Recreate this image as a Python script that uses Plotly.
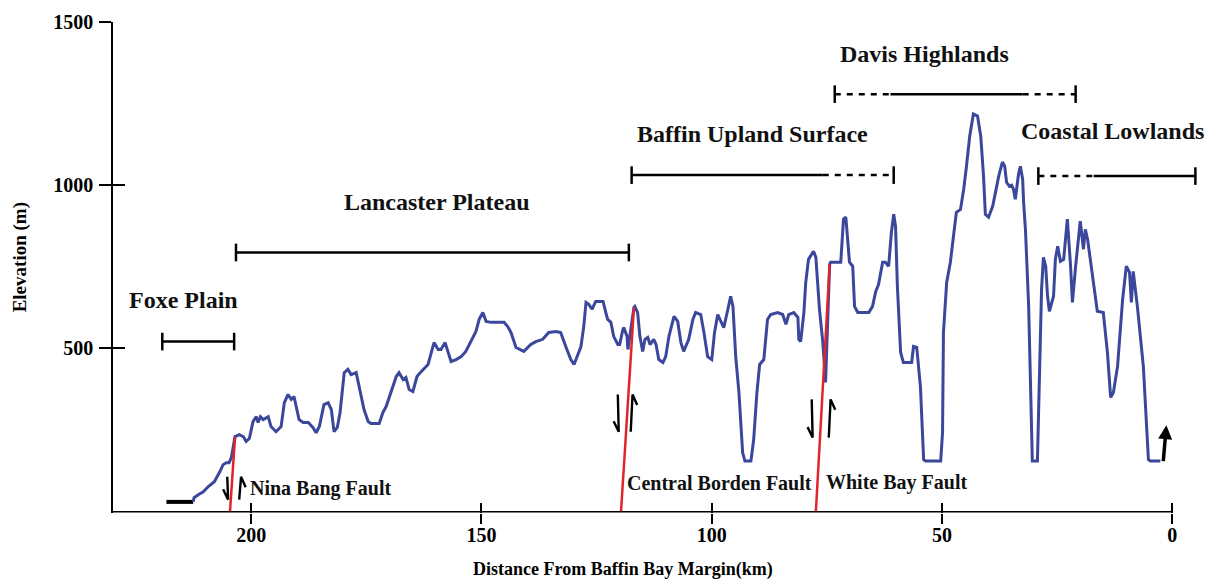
import plotly.graph_objects as go

# Topographic profile: distance from Baffin Bay margin (km) and elevation (m)
profile_km = [
    212.6, 212.4, 211.5, 210.4, 209.3, 208.0, 206.9, 206.1, 205.4, 204.8,
    204.3, 203.5, 202.6, 201.7, 201.1, 200.4, 199.6, 198.9, 198.5, 198.0,
    197.4, 196.3, 195.7, 194.6, 193.5, 192.8, 192.0, 191.3, 190.7, 190.2,
    189.6, 188.7, 187.6, 186.6, 185.9, 185.2, 184.2, 183.3, 182.6, 182.0,
    181.3, 180.7, 179.8, 179.0, 178.3, 177.2, 176.6, 175.5, 174.6, 174.0,
    172.2, 171.4, 170.7, 169.6, 168.5, 167.9, 167.0, 166.4, 165.7, 164.9,
    164.0, 163.1, 161.6, 161.0, 160.3, 159.4, 158.8, 157.9, 157.3, 156.6,
    155.5, 154.4, 153.4, 152.3, 151.2, 150.5, 149.7, 149.0, 147.9, 146.4,
    145.1, 144.3, 143.6, 142.5, 140.8, 139.3, 138.2, 136.7, 135.4, 133.8,
    132.8, 131.7, 130.6, 129.9, 129.1, 128.4, 127.8, 127.3, 126.7, 126.0,
    125.2, 123.6, 123.0, 122.6, 121.9, 121.3, 120.4, 120.0, 119.3, 119.1,
    118.4, 118.2, 116.9, 116.7, 116.1, 115.6, 115.0, 114.5, 113.9, 113.4,
    112.6, 112.1, 111.5, 110.6, 110.0, 109.3, 108.2, 107.4, 106.7, 106.1,
    105.0, 104.1, 103.5, 102.4, 101.7, 100.9, 100.0, 99.4, 98.7, 98.0,
    97.4, 96.5, 95.9, 95.4, 94.8, 94.1, 93.3, 92.8, 91.5, 90.9,
    90.2, 89.6, 88.7, 87.9, 87.2, 85.7, 84.6, 83.9, 83.3, 82.2,
    81.3, 81.1, 80.7, 80.0, 79.6, 79.0, 77.9, 77.4, 77.0, 76.6,
    75.9, 75.5, 75.3, 74.4, 74.2, 73.1, 72.0, 71.4, 70.9, 70.5,
    70.1, 69.4, 69.0, 68.3, 65.9, 65.1, 64.4, 63.8, 62.9, 62.3,
    61.6, 61.0, 60.5, 60.1, 59.7, 59.0, 58.4, 56.6, 56.2, 55.5,
    54.7, 54.0, 53.6, 50.3, 49.9, 49.7, 49.0, 48.2, 47.5, 46.9,
    46.0, 45.3, 44.7, 44.0, 43.2, 42.3, 41.6, 41.0, 40.6, 39.9,
    39.0, 38.4, 37.7, 36.9, 36.4, 36.0, 35.4, 34.9, 34.5, 34.1,
    33.4, 33.0, 32.5, 32.3, 31.9, 31.2, 30.6, 30.4, 29.3, 28.9,
    28.4, 28.0, 27.5, 27.1, 26.7, 25.8, 25.4, 24.9, 24.3, 23.6,
    22.8, 22.1, 21.7, 21.0, 20.6, 20.0, 19.3, 18.9, 18.4, 17.4,
    16.3, 15.0, 14.1, 13.4, 12.8, 11.9, 10.8, 10.0, 9.3, 8.9,
    8.5, 7.6, 6.9, 6.3, 5.2, 4.8, 2.6,
]
profile_m = [
    30, 43, 52, 61, 77, 92, 120, 144, 150, 150,
    166, 230, 236, 230, 215, 224, 276, 291, 273, 291,
    282, 291, 261, 245, 261, 334, 359, 344, 353, 322,
    282, 273, 273, 258, 242, 261, 328, 334, 313, 245,
    258, 304, 426, 436, 420, 426, 383, 313, 276, 270,
    270, 304, 322, 365, 414, 426, 405, 411, 374, 368,
    414, 429, 451, 482, 518, 497, 497, 518, 488, 460,
    466, 475, 491, 521, 552, 589, 610, 583, 580, 580,
    580, 567, 549, 503, 491, 512, 521, 528, 549, 552,
    549, 506, 466, 451, 482, 506, 567, 641, 635, 620,
    644, 644, 610, 589, 580, 537, 512, 512, 558, 564,
    537, 497, 626, 629, 610, 537, 491, 528, 534, 512,
    528, 512, 466, 457, 475, 537, 598, 583, 518, 491,
    528, 589, 610, 604, 549, 475, 466, 549, 604, 580,
    564, 620, 660, 629, 475, 365, 181, 155, 155, 221,
    365, 451, 466, 589, 604, 610, 604, 574, 604, 610,
    595, 528, 521, 610, 702, 773, 798, 779, 702, 617,
    521, 436, 396, 758, 764, 764, 764, 896, 902, 834,
    764, 752, 629, 610, 610, 629, 675, 696, 764, 764,
    752, 856, 911, 874, 690, 488, 457, 457, 506, 503,
    383, 160, 155, 155, 242, 549, 702, 764, 856, 917,
    926, 988, 1058, 1150, 1218, 1212, 1150, 1028, 911, 902,
    936, 979, 1028, 1071, 1058, 1009, 997, 1000, 988, 957,
    1034, 1058, 1018, 948, 865, 629, 322, 155, 155, 426,
    681, 779, 752, 660, 614, 660, 773, 813, 767, 773,
    896, 752, 641, 752, 813, 890, 804, 865, 834, 733,
    614, 610, 488, 350, 365, 445, 650, 752, 733, 641,
    736, 629, 528, 445, 160, 155, 155,
]

# Low flat stretch at the western end of the transect
flat_km = [218.4, 212.6]
flat_m = [30, 30]

# Physiographic regions: extent (km), bar elevation, well-defined (solid) part
region_names = ["Foxe Plain", "Lancaster Plateau", "Baffin Upland Surface",
                "Davis Highlands", "Coastal Lowlands"]
region_start_km = [219.3, 203.3, 117.4, 73.3, 29.1]
region_end_km = [203.7, 118.0, 60.5, 21.0, -5.0]
region_solid_from_km = [219.3, 203.3, 117.4, 61.2, 17.1]
region_solid_to_km = [203.7, 118.0, 75.9, 32.5, -5.0]
region_bar_m = [521, 794, 1031, 1279, 1028]
region_label_km = [214.8, 159.7, 91.2, 53.8, 13.0]
region_label_m = [647, 948, 1156, 1402, 1166]

# Faults: trace from the base line up to the profile
fault_names = ["Nina Bang Fault", "Central Borden Fault", "White Bay Fault"]
fault_base_km = [204.6, 119.7, 77.4]
fault_top_km = [203.5, 116.9, 74.4]
fault_top_m = [230, 626, 758]
fault_label_km = [200.7, 118.9, 75.7]
fault_label_m = [71, 89, 89]
# Sense-of-motion arrows beside each fault
arrow_down_km = [205.0, 120.2, 78.1]
arrow_up_km = [202.6, 117.6, 74.6]
arrow_low_m = [37, 245, 227]
arrow_high_m = [107, 359, 344]

# Uplift arrow at the coast
coast_arrow_km = [2.0, 1.3]
coast_arrow_m = [150, 265]

x_ticks = [200, 150, 100, 50, 0]
y_ticks = [500, 1000, 1500]

SERIF = "Liberation Serif, Times New Roman, serif"
BLUE = "#3a479b"
RED = "#e3232b"
CAP = 27          # half height of range-bar end caps (m)
X_RANGE = [230, -6]
Y_RANGE = [-4, 1500]

fig = go.Figure()

# Range bars for the physiographic regions
solid_x, solid_y, dash_x, dash_y, cap_x, cap_y = [], [], [], [], [], []
for s, e, sf, st, m in zip(region_start_km, region_end_km, region_solid_from_km,
                           region_solid_to_km, region_bar_m):
    solid_x += [sf, st, None]
    solid_y += [m, m, None]
    if s != sf:
        dash_x += [s, sf, None]
        dash_y += [m, m, None]
    if e != st:
        dash_x += [st, e, None]
        dash_y += [m, m, None]
    for k in (s, e):
        cap_x += [k, k, None]
        cap_y += [m - CAP, m + CAP, None]

fig.add_trace(go.Scatter(x=solid_x, y=solid_y, mode="lines",
                         line=dict(color="black", width=2.5), hoverinfo="skip"))
fig.add_trace(go.Scatter(x=dash_x, y=dash_y, mode="lines",
                         line=dict(color="black", width=2.5, dash="6px,6px"),
                         hoverinfo="skip"))
fig.add_trace(go.Scatter(x=cap_x, y=cap_y, mode="lines",
                         line=dict(color="black", width=2.5), hoverinfo="skip"))

# Western flat section and the elevation profile
fig.add_trace(go.Scatter(x=flat_km, y=flat_m, mode="lines",
                         line=dict(color="black", width=4), hoverinfo="skip"))
fig.add_trace(go.Scatter(x=profile_km, y=profile_m, mode="lines",
                         line=dict(color=BLUE, width=3), name="Elevation"))

# Fault traces
fx, fy = [], []
for b, t, tm in zip(fault_base_km, fault_top_km, fault_top_m):
    fx += [b, t, None]
    fy += [0, tm, None]
fig.add_trace(go.Scatter(x=fx, y=fy, mode="lines",
                         line=dict(color=RED, width=2.5), hoverinfo="skip"))

# Half arrows: down on the left of each fault, up on the right
ax, ay = [], []
for dk, uk, lo, hi in zip(arrow_down_km, arrow_up_km, arrow_low_m, arrow_high_m):
    ax += [dk + 0.2, dk, dk + 1.1, None]
    ay += [hi, lo, lo + 32, None]
    ax += [uk, uk - 0.4, uk - 1.4, None]
    ay += [lo, hi, hi - 32, None]
fig.add_trace(go.Scatter(x=ax, y=ay, mode="lines",
                         line=dict(color="black", width=2.4), hoverinfo="skip"))

# Invisible trace carrying the overlay axes used for crossing ticks
fig.add_trace(go.Scatter(x=[100], y=[500], xaxis="x2", yaxis="y2", mode="markers",
                         marker=dict(opacity=0), hoverinfo="skip"))

# Horizontal axis line ending at the coast
fig.add_shape(type="line", xref="x", yref="y", x0=X_RANGE[0], x1=0, y0=0, y1=0,
              line=dict(color="black", width=1.6))

# Coastal uplift arrow
fig.add_annotation(x=coast_arrow_km[1], y=coast_arrow_m[1], ax=coast_arrow_km[0],
                   ay=coast_arrow_m[0], xref="x", yref="y", axref="x", ayref="y",
                   text="", showarrow=True, arrowhead=2, arrowsize=0.8,
                   arrowwidth=3.5, arrowcolor="black")

# Region labels
for name, k, m in zip(region_names, region_label_km, region_label_m):
    fig.add_annotation(x=k, y=m, xref="x", yref="y", text=name, showarrow=False,
                       font=dict(family=SERIF, size=24, color="#111111", weight="bold"))

# Fault labels
for name, k, m in zip(fault_names, fault_label_km, fault_label_m):
    fig.add_annotation(x=k, y=m, xref="x", yref="y", text=name, showarrow=False,
                       xanchor="left",
                       font=dict(family=SERIF, size=20, color="#111111", weight="bold"))

# Axis titles
fig.add_annotation(x=-0.0856, y=779, xref="paper", yref="y", text="Elevation (m)",
                   textangle=-90, showarrow=False, xanchor="center", yanchor="middle",
                   font=dict(family=SERIF, size=19, color="black", weight="bold"))
fig.add_annotation(x=119.3, y=-0.116, xref="x", yref="paper",
                   text="Distance From Baffin Bay Margin(km)", showarrow=False,
                   xanchor="center", yanchor="middle",
                   font=dict(family=SERIF, size=18, color="black", weight="bold"))

tick_font = dict(family=SERIF, size=20, color="black", weight="bold")
fig.update_layout(
    width=1217, height=581,
    margin=dict(l=113, r=17, t=22, b=68),
    paper_bgcolor="white", plot_bgcolor="white",
    showlegend=False,
    xaxis=dict(range=X_RANGE, tickvals=x_ticks, ticks="outside", ticklen=10,
               tickwidth=1.6, tickcolor="black", showline=False, showgrid=False,
               zeroline=False, tickfont=tick_font, ticklabelstandoff=-6),
    yaxis=dict(range=Y_RANGE, tickvals=y_ticks, ticks="outside", ticklen=12,
               tickwidth=1.6, tickcolor="black", showline=True, linecolor="black",
               linewidth=1.6, showgrid=False, zeroline=False, tickfont=tick_font,
               ticklabelstandoff=2),
    xaxis2=dict(range=X_RANGE, overlaying="x", tickvals=x_ticks, ticks="inside",
                ticklen=10, tickwidth=1.6, tickcolor="black", showticklabels=False,
                showline=False, showgrid=False, zeroline=False),
    yaxis2=dict(range=Y_RANGE, overlaying="y", tickvals=y_ticks, ticks="inside",
                ticklen=12, tickwidth=1.6, tickcolor="black", showticklabels=False,
                showline=False, showgrid=False, zeroline=False),
)

fig.write_html("out.html")
